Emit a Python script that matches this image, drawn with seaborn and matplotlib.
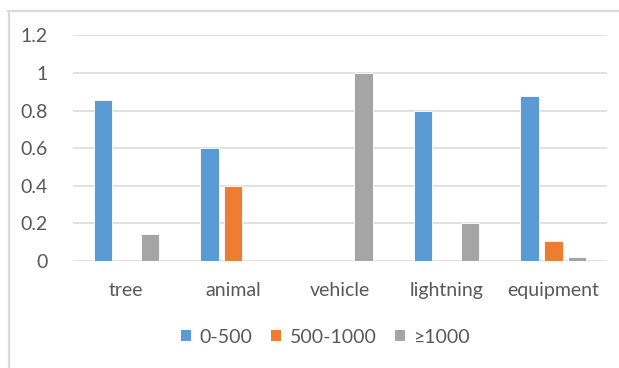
import matplotlib
matplotlib.use("Agg")
import matplotlib.pyplot as plt
from matplotlib.lines import Line2D
from matplotlib.patches import Patch
import pandas as pd
import seaborn as sns

# Share of events per cause, split by distance band
causes = ["tree", "animal", "vehicle", "lightning", "equipment"]
bands = ["0-500", "500-1000", "≥1000"]
share_0_500 = [0.857, 0.6, 0.0, 0.8, 0.875]
share_500_1000 = [0.0, 0.4, 0.0, 0.0, 0.104]
share_1000_plus = [0.143, 0.0, 1.0, 0.2, 0.021]
band_colors = ["#5B9BD5", "#ED7D31", "#A5A5A5"]
y_ticks = [0, 0.2, 0.4, 0.6, 0.8, 1, 1.2]
y_tick_labels = ["0", "0.2", "0.4", "0.6", "0.8", "1", "1.2"]

df = pd.DataFrame({
    "cause": causes * 3,
    "band": [b for b in bands for _ in causes],
    "share": share_0_500 + share_500_1000 + share_1000_plus,
})

sns.set_theme(style="white")
plt.rcParams["font.family"] = ["Lato", "DejaVu Sans"]
text_color = "#595959"
grid_color = "#D9D9D9"

fig = plt.figure(figsize=(6.19, 3.68), dpi=100)
ax = fig.add_axes([0.1179, 0.2908, 0.9801 - 0.1179, 0.904 - 0.2908])

sns.barplot(
    data=df, x="cause", y="share", hue="band", order=causes, hue_order=bands,
    palette=band_colors, width=0.664, gap=0.22, dodge=True, ax=ax,
    legend=False, saturation=1, linewidth=0.6, edgecolor="white",
)

ax.set_ylim(0, 1.2)
ax.set_xlim(-0.5, len(causes) - 0.5)
ax.set_yticks(y_ticks)
ax.set_yticklabels(y_tick_labels)
ax.yaxis.grid(True, color=grid_color, linewidth=1.1)
ax.set_axisbelow(True)
for s in ax.spines.values():
    s.set_visible(False)
ax.set_xlabel("")
ax.set_ylabel("")
ax.tick_params(axis="y", length=0, pad=18, labelsize=14, labelcolor=text_color)
ax.tick_params(axis="x", length=0, pad=15, labelsize=14, labelcolor=text_color)

handles = [Patch(facecolor=c, edgecolor="none") for c in band_colors]
fig.legend(
    handles, bands, loc="center", bbox_to_anchor=(0.526, 0.084), ncol=3,
    frameon=False, handlelength=0.5, handleheight=0.5, handletextpad=0.45,
    columnspacing=0.95, prop={"size": 14}, labelcolor=text_color,
)

# chart frame: top and left edges
fig.add_artist(Line2D([8 / 619, 1], [1 - 10.5 / 368] * 2, color=grid_color,
                      linewidth=1.6, transform=fig.transFigure))
fig.add_artist(Line2D([9 / 619] * 2, [0, 1 - 10.5 / 368], color=grid_color,
                      linewidth=1.6, transform=fig.transFigure))

fig.savefig("out.png", dpi=100, facecolor="white")
